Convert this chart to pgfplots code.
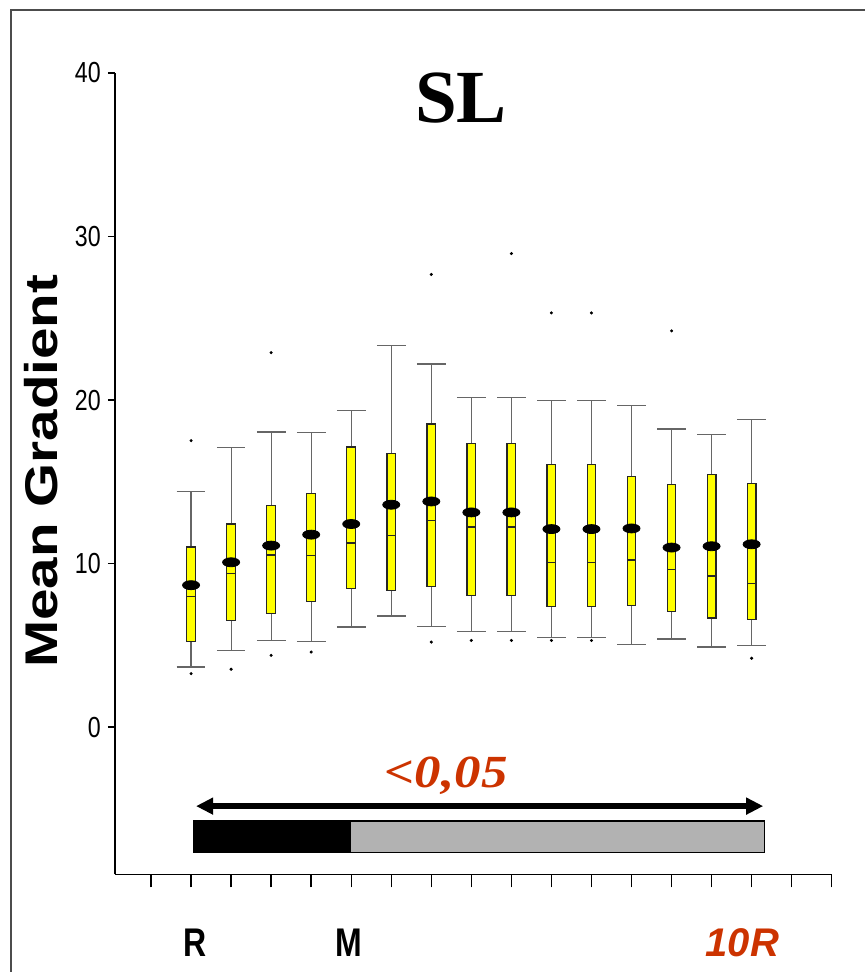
\documentclass[border=0pt]{standalone}
\usepackage{pgfplots}
\pgfplotsset{compat=1.18}
\usepgfplotslibrary{statistics}
\usetikzlibrary{arrows.meta}
\usepackage{fontspec}
\setmainfont{Liberation Sans}
\newfontfamily\timesfont{Liberation Serif}
\definecolor{redtxt}{RGB}{204,51,0}
\definecolor{barg}{RGB}{178,178,178}
\definecolor{boxy}{RGB}{255,255,0}
\newcommand{\bp}[6]{\addplot[boxplot prepared={draw position=#1, lower whisker=#2, lower quartile=#3, median=#4, upper quartile=#5, upper whisker=#6}] coordinates {};}
\begin{document}
\begin{tikzpicture}
\draw[line width=0.8pt, black!70] (-52pt,-48.85pt) -- (-52pt,432.15pt) -- (375pt,432.15pt);
\begin{axis}[at={(0,0)}, anchor=south west, scale only axis,
  width=358.35pt, height=400.65pt,
  xmin=-0.9, xmax=17, ymin=-9, ymax=40,
  axis x line*=bottom, axis y line*=left,
  axis line style={line width=0.7pt, black},
  xtick={0,...,17}, xticklabels={},
  ytick={0,10,20,30,40},
  tick align=outside,
  tick style={black, line width=0.7pt},
  xtick style={/pgfplots/major tick length=6.5pt},
  ytick style={/pgfplots/major tick length=3.5pt},
  yticklabel style={font=\fontsize{14.5}{14.5}\selectfont, xscale=0.8},
  /pgf/number format/assume math mode=true,
  clip=false,
  boxplot/draw direction=y,
  boxplot/box extend=0.217,
  boxplot/whisker extend=0.717,
  boxplot/every box/.style={draw=black!85, fill=boxy, line width=0.6pt},
  boxplot/every whisker/.style={draw=black!60, line width=0.6pt},
  boxplot/every median/.style={draw=black!85, line width=0.6pt},
]
\bp{1}{3.68}{5.26}{7.97}{11.02}{14.41}
\bp{2}{4.70}{6.52}{9.37}{12.42}{17.11}
\bp{3}{5.32}{6.93}{10.53}{13.56}{18.05}
\bp{4}{5.26}{7.70}{10.51}{14.31}{18.01}
\bp{5}{6.12}{8.48}{11.26}{17.13}{19.37}
\bp{6}{6.79}{8.33}{11.73}{16.71}{23.33}
\bp{7}{6.16}{8.58}{12.62}{18.54}{22.21}
\bp{8}{5.87}{8.05}{12.24}{17.33}{20.14}
\bp{9}{5.87}{8.05}{12.24}{17.33}{20.14}
\bp{10}{5.47}{7.38}{10.09}{16.08}{19.98}
\bp{11}{5.47}{7.38}{10.09}{16.08}{19.98}
\bp{12}{5.04}{7.42}{10.22}{15.34}{19.67}
\bp{13}{5.39}{7.05}{9.63}{14.86}{18.23}
\bp{14}{4.90}{6.67}{9.24}{15.45}{17.89}
\bp{15}{5.00}{6.56}{8.80}{14.90}{18.80}
% means
\addplot[only marks, mark=*, mark size=2.25pt, mark options={xscale=1.9, fill=black, draw=black}] coordinates {
(1,8.68) (2,10.08) (3,11.10) (4,11.77) (5,12.42) (6,13.60) (7,13.80) (8,13.13)
(9,13.13) (10,12.11) (11,12.11) (12,12.15) (13,10.98) (14,11.06) (15,11.18)};
% outliers
\addplot[only marks, mark=*, mark size=0.55pt, black] coordinates {
(1,17.52) (1,3.27) (2,3.54) (3,22.9) (3,4.39) (4,4.59) (7,27.68) (7,5.20)
(8,5.30) (9,28.96) (9,5.30) (10,25.33) (10,5.30) (11,25.33) (11,5.30) (13,24.23) (15,4.21)};
% annotations
\node[font=\timesfont\bfseries\fontsize{37.5}{37.5}\selectfont] at (axis cs:7.74,38.47) {SL};
\node[rotate=90, yscale=0.81, font=\bfseries\fontsize{28.3}{28.3}\selectfont] at (axis cs:-2.75,15.65) {Mean Gradient};
\node[anchor=base, xscale=1.15, text=redtxt, font=\timesfont\bfseries\itshape\fontsize{23}{23}\selectfont] at (axis cs:7.37,-3.68) {<0,05};
\draw[line width=3pt, {Triangle[length=8.5pt,width=8pt]}-{Triangle[length=8.5pt,width=8pt]}] (axis cs:1.124,-4.83) -- (axis cs:15.29,-4.83);
\draw[line width=0.8pt, fill=black] (axis cs:1.08,-5.74) rectangle (axis cs:4.97,-7.67);
\draw[line width=0.8pt, fill=barg] (axis cs:4.97,-5.74) rectangle (axis cs:15.32,-7.67);
\node[anchor=base, xscale=0.8, font=\bfseries\fontsize{20}{20}\selectfont] at (axis cs:1.10,-14.0) {R};
\node[anchor=base, xscale=0.8, font=\bfseries\fontsize{20}{20}\selectfont] at (axis cs:4.95,-14.0) {M};
\node[anchor=base, text=redtxt, font=\bfseries\itshape\fontsize{20}{20}\selectfont] at (axis cs:14.77,-14.0) {10R};
\end{axis}
\pgfresetboundingbox
\path[use as bounding box] (-57.5pt,-48.85pt) rectangle (375pt,437.15pt);
\end{tikzpicture}
\end{document}
